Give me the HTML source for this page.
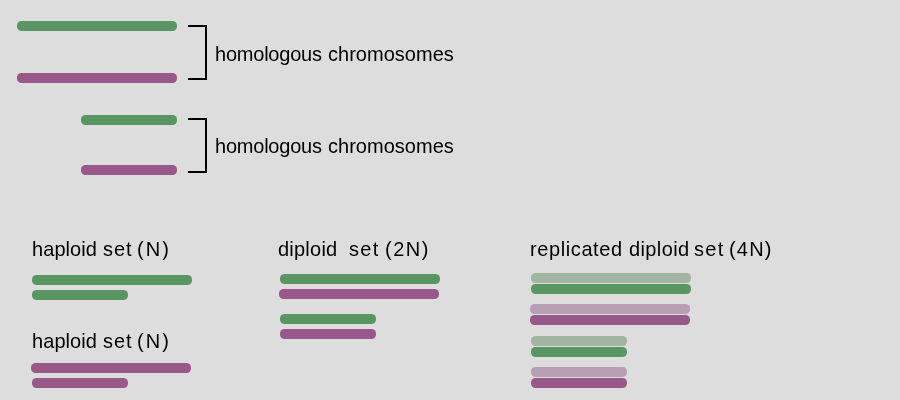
<!DOCTYPE html>
<html><head><meta charset="utf-8">
<style>
html,body{margin:0;padding:0;}
body{width:900px;height:400px;background:#dddddd;position:relative;overflow:hidden;font-family:"Liberation Sans",sans-serif;color:#000;}
.b{position:absolute;height:10px;border-radius:4.5px;}
.g{background:#599664;}
.p{background:#985889;}
.lg{background:#a1b5a0;}
.lp{background:#b89fb3;}
.br{position:absolute;border:2px solid #000;border-left:none;}
.t{position:absolute;font-size:20.0px;white-space:pre;line-height:20.0px;height:20.0px;color:#000;transform:scaleY(1.04);transform-origin:0 18.1px;will-change:transform;}
</style></head><body>

<div class="b g" style="left:17px;top:21px;width:160px;height:10px"></div>
<div class="b p" style="left:17px;top:73px;width:160px;height:10px"></div>
<div class="b g" style="left:81px;top:115px;width:96px;height:10px"></div>
<div class="b p" style="left:81px;top:165px;width:96px;height:10px"></div>
<div class="b g" style="left:32px;top:275px;width:160px;height:10px"></div>
<div class="b g" style="left:32px;top:290px;width:96px;height:10px"></div>
<div class="b p" style="left:31px;top:363px;width:160px;height:10px"></div>
<div class="b p" style="left:32px;top:378px;width:96px;height:10px"></div>
<div class="b g" style="left:280px;top:274px;width:160px;height:10px"></div>
<div class="b p" style="left:279px;top:289px;width:160px;height:10px"></div>
<div class="b g" style="left:280px;top:314px;width:96px;height:10px"></div>
<div class="b p" style="left:280px;top:329px;width:96px;height:10px"></div>
<div class="b lg" style="left:531px;top:273px;width:160px;height:10px"></div>
<div class="b g" style="left:531px;top:284px;width:160px;height:10px"></div>
<div class="b lp" style="left:530px;top:304px;width:160px;height:10px"></div>
<div class="b p" style="left:530px;top:315px;width:160px;height:10px"></div>
<div class="b lg" style="left:531px;top:336px;width:96px;height:10px"></div>
<div class="b g" style="left:531px;top:347px;width:96px;height:10px"></div>
<div class="b lp" style="left:531px;top:367px;width:96px;height:10px"></div>
<div class="b p" style="left:531px;top:378px;width:96px;height:10px"></div>
<div class="br" style="left:188px;top:25px;width:17px;height:51px"></div>
<div class="br" style="left:188px;top:118px;width:17px;height:51px"></div>
<div class="t" style="left:215.0px;top:43.75px;letter-spacing:-0.225px">homologous</div>
<div class="t" style="left:328.475px;top:43.75px;letter-spacing:0.023px">chromosomes</div>
<div class="t" style="left:215.0px;top:135.75px;letter-spacing:-0.225px">homologous</div>
<div class="t" style="left:328.475px;top:135.75px;letter-spacing:0.023px">chromosomes</div>
<div class="t" style="left:32.05px;top:238.5px;letter-spacing:0.075px">haploid</div>
<div class="t" style="left:102.55px;top:238.5px;letter-spacing:0.9px">set</div>
<div class="t" style="left:137.45px;top:238.5px;letter-spacing:2.025px">(N)</div>
<div class="t" style="left:32.05px;top:330.5px;letter-spacing:0.075px">haploid</div>
<div class="t" style="left:102.55px;top:330.5px;letter-spacing:0.9px">set</div>
<div class="t" style="left:137.45px;top:330.5px;letter-spacing:2.025px">(N)</div>
<div class="t" style="left:277.95px;top:239.25px;letter-spacing:0.225px">diploid</div>
<div class="t" style="left:348.8px;top:239.25px;letter-spacing:1.35px">set</div>
<div class="t" style="left:384.6px;top:239.25px;letter-spacing:1.5px">(2N)</div>
<div class="t" style="left:530.25px;top:238.95px;letter-spacing:0.6px">replicated</div>
<div class="t" style="left:629.0px;top:238.95px;letter-spacing:0.375px">diploid</div>
<div class="t" style="left:693.8px;top:238.95px;letter-spacing:1.35px">set</div>
<div class="t" style="left:729.05px;top:238.95px;letter-spacing:1.2px">(4N)</div>
</body></html>
